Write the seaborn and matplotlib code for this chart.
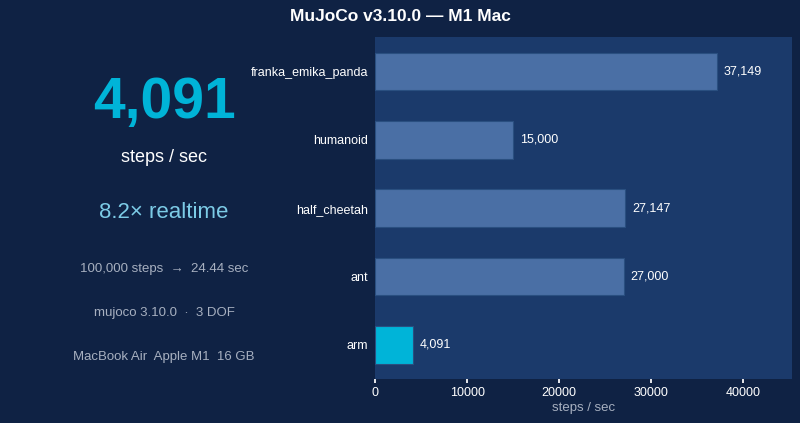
import matplotlib
matplotlib.use("Agg")
import matplotlib.pyplot as plt
import numpy as np
import pandas as pd
import seaborn as sns

models = ['franka_emika_panda', 'humanoid', 'half_cheetah', 'ant', 'arm']
steps_per_sec = [37149, 15000, 27147, 27000, 4091]
highlight = 'arm'

BG = '#0f2244'
AX_BG = '#1b3a6b'
BAR = '#4a6fa5'
HL = '#00b4d8'
GREY = '#a7b0c0'

sns.set_theme(style='dark')
plt.rcParams['font.family'] = ['Liberation Sans', 'DejaVu Sans']

df = pd.DataFrame({'model': models, 'sps': steps_per_sec})
palette = {m: (HL if m == highlight else BAR) for m in models}

fig = plt.figure(figsize=(8, 4.23), dpi=100, facecolor=BG)
ax = fig.add_axes([0.469, 0.104, 0.521, 0.808])
ax.set_facecolor(AX_BG)

sns.barplot(data=df, y='model', x='sps', hue='model', palette=palette,
            order=models, width=0.55, legend=False, ax=ax, saturation=1,
            edgecolor='#2a4f80', linewidth=0.8)

for i, v in enumerate(steps_per_sec):
    ax.text(v + 750, i, f'{v:,}', color='white', va='center', ha='left', fontsize=9)

ax.set_xlim(0, 45300)
ax.set_ylim(4.5, -0.5)
ax.set_xticks([0, 10000, 20000, 30000, 40000])
ax.tick_params(axis='x', colors='white', labelsize=9, length=3, bottom=True, pad=3)
ax.tick_params(axis='y', colors='white', labelsize=9, length=0, pad=5)
ax.set_xlabel('steps / sec', color=GREY, fontsize=9.5, labelpad=2)
ax.set_ylabel('')
ax.grid(False)
for s in ax.spines.values():
    s.set_visible(False)

fig.text(0.5, 0.962, 'MuJoCo v3.10.0 \u2014 M1 Mac', color='white', fontsize=12.5,
         fontweight='bold', ha='center', va='center')

cx = 0.205
fig.text(cx, 1 - 103 / 423, '4,091', color=HL, fontsize=41, fontweight='bold',
         ha='center', va='center')
fig.text(cx, 1 - 157 / 423, 'steps / sec', color='white', fontsize=13,
         ha='center', va='center')
fig.text(cx, 1 - 213 / 423, '8.2\u00d7 realtime', color='#7ccbe6', fontsize=16,
         ha='center', va='center')
fig.text(cx, 1 - 269 / 423, '100,000 steps  \u2192  24.44 sec', color=GREY, fontsize=9.5,
         ha='center', va='center')
fig.text(cx, 1 - 313 / 423, 'mujoco 3.10.0  \u00b7  3 DOF', color=GREY, fontsize=9.5,
         ha='center', va='center')
fig.text(cx, 1 - 357 / 423, 'MacBook Air  Apple M1  16 GB', color=GREY, fontsize=9.5,
         ha='center', va='center')

fig.savefig('out.png', dpi=100, facecolor=BG)
